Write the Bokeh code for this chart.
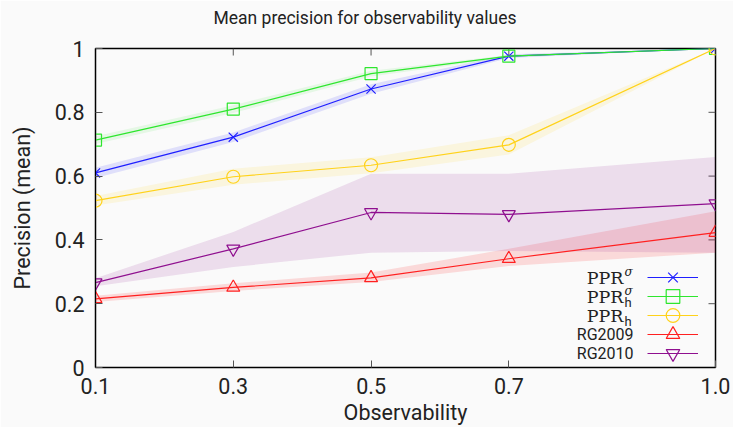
from bokeh.plotting import figure
from bokeh.models import Legend, LegendItem, Label, FixedTicker, Range1d, Title
from bokeh.embed import file_html
from bokeh.resources import INLINE

# ---------------- data ----------------
observability = [0.1, 0.3, 0.5, 0.7, 1.0]
x_tick_labels = ["0.1", "0.3", "0.5", "0.7", "1.0"]
y_ticks = [0, 0.2, 0.4, 0.6, 0.8, 1.0]
y_tick_labels = ["0", "0.2", "0.4", "0.6", "0.8", "1"]

ppr_sigma = [0.610, 0.722, 0.873, 0.976, 1.0]
ppr_sigma_lo = [0.594, 0.707, 0.858, 0.970, 1.0]
ppr_sigma_hi = [0.626, 0.737, 0.888, 0.982, 1.0]

ppr_h_sigma = [0.713, 0.810, 0.921, 0.976, 1.0]
ppr_h_sigma_lo = [0.701, 0.798, 0.912, 0.972, 1.0]
ppr_h_sigma_hi = [0.725, 0.822, 0.930, 0.980, 1.0]

ppr_h = [0.523, 0.598, 0.634, 0.698, 1.0]
ppr_h_lo = [0.508, 0.573, 0.609, 0.668, 1.0]
ppr_h_hi = [0.538, 0.623, 0.659, 0.728, 1.0]

rg2009 = [0.215, 0.251, 0.281, 0.341, 0.423]
rg2009_lo = [0.205, 0.240, 0.268, 0.318, 0.360]
rg2009_hi = [0.225, 0.264, 0.298, 0.372, 0.490]

rg2010 = [0.266, 0.372, 0.486, 0.480, 0.514]
rg2010_lo = [0.255, 0.315, 0.360, 0.365, 0.360]
rg2010_hi = [0.280, 0.425, 0.607, 0.607, 0.660]

series = [
    (ppr_sigma, ppr_sigma_lo, ppr_sigma_hi, "#1f1fff", "x", 13, 0.12),
    (ppr_h_sigma, ppr_h_sigma_lo, ppr_h_sigma_hi, "#2ee62e", "square", 12, 0.10),
    (ppr_h, ppr_h_lo, ppr_h_hi, "#ffd21a", "circle", 13, 0.12),
    (rg2009, rg2009_lo, rg2009_hi, "#ff2020", "triangle", 13, 0.15),
    (rg2010, rg2010_lo, rg2010_hi, "#8f0f8f", "inverted_triangle", 13, 0.12),
]

# ---------------- figure ----------------
W, H = 733, 427
BL, BR, BT, BB = 95, 18, 48, 60
FW, FH = W - BL - BR, H - BT - BB
x0, x1, y0, y1 = 0.1, 1.0, 0.0, 1.0
SANS = "Roboto"
TXT = "#222222"

p = figure(width=W, height=H, output_backend="svg", toolbar_location=None,
           x_range=Range1d(x0, x1), y_range=Range1d(y0, y1),
           min_border_left=BL, min_border_right=BR, min_border_top=BT,
           min_border_bottom=BB)
p.background_fill_color = "#fafafa"
p.border_fill_color = "#fafafa"
p.outline_line_color = "black"
p.outline_line_width = 1.5
p.xgrid.visible = False
p.ygrid.visible = False

xax = p.below[0]
yax = p.left[0]

# blank spacer between the frame and the title
p.add_layout(Title(text=" ", text_font_size="16px", standoff=2), "above")

p.title.text = "Mean precision for observability values"
p.title.text_font = SANS
p.title.text_font_size = "17.5px"
p.title.text_font_style = "normal"
p.title.text_color = TXT
p.title.align = "left"
p.title.offset = 118
p.title.vertical_align = "bottom"
p.title.standoff = 0

xax.ticker = FixedTicker(ticks=observability)
xax.major_label_overrides = {v: s for v, s in zip(observability, x_tick_labels)}
yax.ticker = FixedTicker(ticks=y_ticks)
yax.major_label_overrides = {v: s for v, s in zip(y_ticks, y_tick_labels)}
for ax in (xax, yax):
    ax.major_tick_in = 7
    ax.major_tick_out = 0
    ax.minor_tick_line_color = None
    ax.axis_line_color = "black"
    ax.major_tick_line_color = "#555555"
    ax.major_label_text_font = SANS
    ax.major_label_text_font_size = "21.5px"
    ax.major_label_text_color = TXT
    ax.axis_label_text_font = SANS
    ax.axis_label_text_font_size = "21.5px"
    ax.axis_label_text_font_style = "normal"
    ax.axis_label_text_color = TXT
xax.major_label_standoff = 10
xax.axis_label_standoff = 3
yax.major_label_standoff = 11
yax.axis_label_standoff = 17
xax.axis_label = "Observability"
yax.axis_label = "Precision (mean)"

# mirrored inward ticks on the top and right borders
tick_px = 7
p.segment(x0=observability, y0=[y1] * len(observability), x1=observability,
          y1=[y1 - tick_px / FH * (y1 - y0)] * len(observability),
          line_color="#555555", line_width=1)
p.segment(x0=[x1] * len(y_ticks), y0=y_ticks,
          x1=[x1 - tick_px / FW * (x1 - x0)] * len(y_ticks), y1=y_ticks,
          line_color="#555555", line_width=1)

renderers = []
for ys, lo, hi, color, marker, msize, alpha in series:
    p.varea(x=observability, y1=lo, y2=hi, fill_color=color, fill_alpha=alpha)
for ys, lo, hi, color, marker, msize, alpha in series:
    ln = p.line(observability, ys, line_color=color, line_width=1.2)
    sc = p.scatter(observability, ys, marker=marker, size=msize, line_color=color,
                   fill_color=None, line_width=1.2)
    renderers.append([ln, sc])

# one legend box per row (keys only; texts are drawn on their left)
row_y = [90, 71, 52, 33, 14]
GH = 34
for rs, ry in zip(renderers, row_y):
    lg = Legend(items=[LegendItem(label=" ", renderers=rs)], location=(552, ry - GH // 2),
                glyph_width=51, glyph_height=GH, label_height=14, label_width=0,
                label_standoff=0, label_text_font_size="13px", spacing=0,
                padding=0, margin=0, border_line_color=None,
                background_fill_alpha=0)
    p.add_layout(lg, "center")

serif = "DejaVu Serif"
for i in range(3):
    p.add_layout(Label(x=528, y=row_y[i], x_units="screen", y_units="screen", text="PPR",
                       text_font=serif, text_font_size="17.5px", text_align="right",
                       text_baseline="middle", text_color=TXT))
for i in (0, 1):
    p.add_layout(Label(x=529, y=row_y[i] + 6, x_units="screen", y_units="screen", text="σ",
                       text_font=serif, text_font_style="italic", text_font_size="12px",
                       text_align="left", text_baseline="middle", text_color=TXT))
for i in (1, 2):
    p.add_layout(Label(x=529, y=row_y[i] - 6, x_units="screen", y_units="screen", text="h",
                       text_font=SANS, text_font_size="13px",
                       text_align="left", text_baseline="middle", text_color=TXT))
for i, t in ((3, "RG2009"), (4, "RG2010")):
    p.add_layout(Label(x=538, y=row_y[i], x_units="screen", y_units="screen", text=t,
                       text_font=SANS, text_font_size="16px", text_align="right",
                       text_baseline="middle", text_color=TXT))

open("out.html", "w").write(file_html(p, INLINE))
